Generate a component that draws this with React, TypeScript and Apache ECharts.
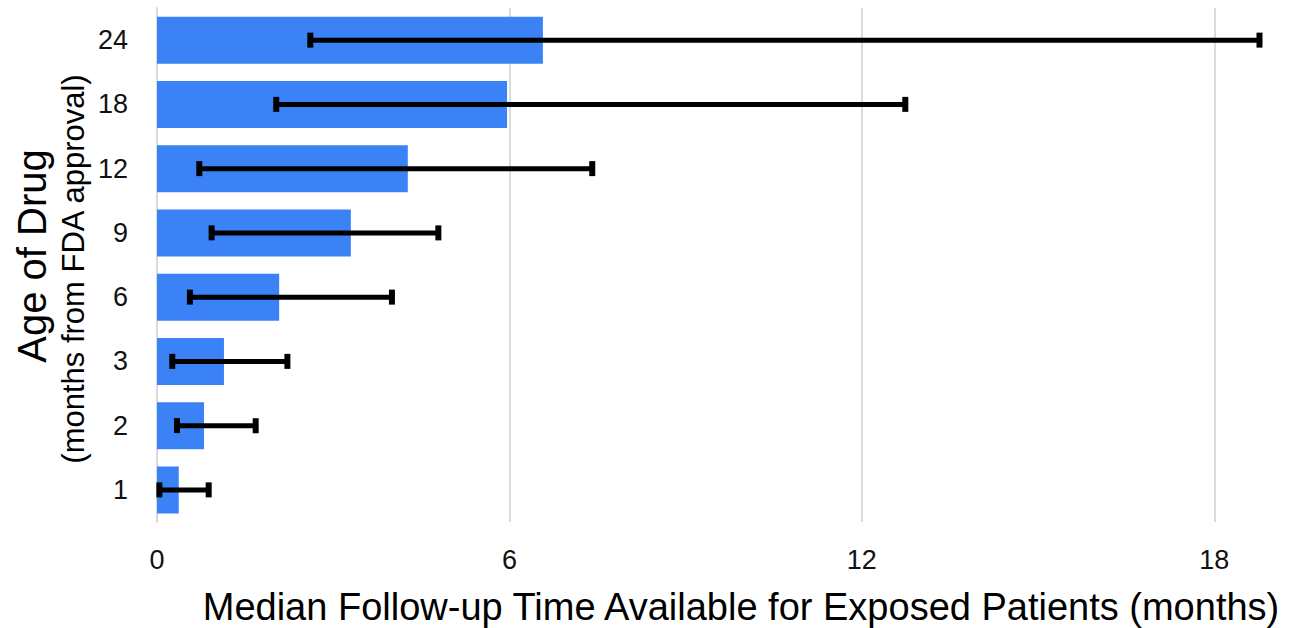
import React, { useEffect, useRef } from "react";
import * as echarts from "echarts";

const categories = ["1", "2", "3", "6", "9", "12", "18", "24"];
const medianFollowUp = [0.37, 0.8, 1.14, 2.08, 3.3, 4.27, 5.96, 6.57];
const errLow = [0.04, 0.34, 0.26, 0.56, 0.93, 0.72, 2.03, 2.61];
const errHigh = [0.88, 1.68, 2.22, 4.0, 4.79, 7.41, 12.74, 18.77];
const xTicks = [0, 6, 12, 18];

const xTitle = "Median Follow-up Time Available for Exposed Patients (months)";
const yTitle = "Age of Drug";
const ySubTitle = "(months from FDA approval)";

const FONT = '"Liberation Sans", Arial, Helvetica, sans-serif';

export default function App() {
  const ref = useRef<HTMLDivElement>(null);
  useEffect(() => {
    if (!ref.current) return;
    const chart = echarts.init(ref.current, null, { renderer: "svg" });
    const errData = categories.map((_, i) => [errLow[i], errHigh[i], i]);
    chart.setOption({
      animation: false,
      backgroundColor: "#fff",
      grid: { left: 157, right: 24, top: 8, bottom: 106, containLabel: false },
      xAxis: {
        type: "value",
        min: xTicks[0],
        max: 19,
        interval: xTicks[1] - xTicks[0],
        axisLine: { show: false },
        axisTick: { show: false },
        splitLine: {
          show: true,
          showMaxLine: false,
          lineStyle: { color: "#dadada", width: 2 },
        },
        axisLabel: {
          fontSize: 27,
          fontFamily: FONT,
          color: "#111",
          margin: 24,
          showMaxLabel: false,
        },
      },
      yAxis: {
        type: "category",
        data: categories,
        axisLine: { show: true, lineStyle: { color: "#dadada", width: 2 } },
        axisTick: { show: false },
        axisLabel: { fontSize: 27, fontFamily: FONT, color: "#111", margin: 29 },
      },
      series: [
        {
          type: "bar",
          data: medianFollowUp,
          barWidth: 47,
          itemStyle: { color: "#3b82f6" },
          z: 2,
        },
        {
          type: "custom",
          data: errData,
          encode: { x: [0, 1], y: 2 },
          z: 3,
          renderItem: (params: any, api: any) => {
            const idx = api.value(2);
            const p0 = api.coord([api.value(0), idx]);
            const p1 = api.coord([api.value(1), idx]);
            const capH = 15;
            const capW = 6;
            return {
              type: "group",
              children: [
                {
                  type: "line",
                  shape: { x1: p0[0], y1: p0[1], x2: p1[0], y2: p1[1] },
                  style: { stroke: "#000", lineWidth: 5 },
                },
                {
                  type: "rect",
                  shape: { x: p0[0] - capW / 2, y: p0[1] - capH / 2, width: capW, height: capH },
                  style: { fill: "#000" },
                },
                {
                  type: "rect",
                  shape: { x: p1[0] - capW / 2, y: p1[1] - capH / 2, width: capW, height: capH },
                  style: { fill: "#000" },
                },
              ],
            };
          },
        },
      ],
      graphic: [
        {
          type: "text",
          x: 741,
          y: 607,
          style: {
            text: xTitle,
            fontSize: 38,
            fontFamily: FONT,
            fill: "#000",
            align: "center",
            verticalAlign: "middle",
          },
        },
        {
          type: "text",
          x: 32,
          y: 256,
          rotation: Math.PI / 2,
          style: {
            text: yTitle,
            fontSize: 40,
            fontFamily: FONT,
            fill: "#000",
            align: "center",
            verticalAlign: "middle",
          },
        },
        {
          type: "text",
          x: 73,
          y: 269,
          rotation: Math.PI / 2,
          style: {
            text: ySubTitle,
            fontSize: 31,
            fontFamily: FONT,
            fill: "#000",
            align: "center",
            verticalAlign: "middle",
          },
        },
      ],
    });
    return () => chart.dispose();
  }, []);
  return (
    <div
      ref={ref}
      style={{ position: "absolute", left: 0, top: 0, width: 1297, height: 628 }}
    />
  );
}
